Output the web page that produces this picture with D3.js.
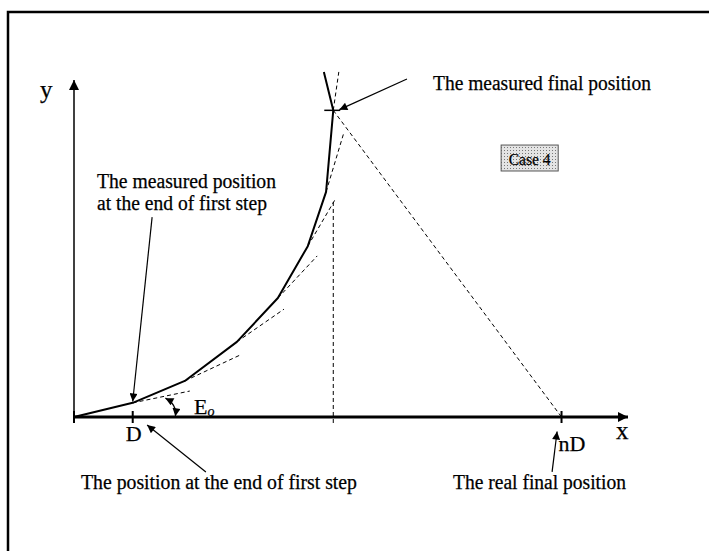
<!DOCTYPE html>
<meta charset="utf-8">
<style>
body { margin: 0; background: #fff; }
svg { display: block; }
text { font-family: "Liberation Serif", "Times New Roman", serif; fill: #000; stroke: #000; stroke-width: 0.25; }
.curve { fill: none; stroke: #000; stroke-width: 2; stroke-linejoin: round; }
.tangent, .guide { fill: none; stroke: #000; stroke-width: 1; stroke-dasharray: 4,3; }
.arrow { fill: none; stroke: #000; stroke-width: 1.2; }
</style>
<svg width="709" height="551"></svg>
<script src="https://d3js.org/d3.v7.min.js"></script>
<script>

// step points of the measured path (x, y in chart units)
var pathX = [0, 10.6, 20.0, 29.4, 36.8, 42.2, 45.5, 46.8, 45.1];
var pathY = [0, 4.2, 10.7, 22.3, 35.3, 50.7, 66.8, 91.0, 102.4];

// tangent continuation of every step (start -> end)
var tanX0 = [10.6, 20.0, 29.4, 36.8, 42.2, 45.5, 46.8];
var tanY0 = [4.2, 10.7, 22.3, 35.3, 50.7, 66.8, 91.0];
var tanX1 = [20.9, 30.0, 37.9, 43.9, 47.3, 48.7, 47.8];
var tanY1 = [7.7, 18.4, 32.0, 47.8, 65.0, 84.3, 102.4];

var tickValues = [10.6, 88.0];
var tickLabels = ["D", "nD"];
var finalMeasured = [46.8, 91.0];
var finalReal = [88.0, 0];

var svg = d3.select("svg");

var x = d3.scaleLinear().domain([0, 100]).range([74, 628]);
var y = d3.scaleLinear().domain([0, 100]).range([417, 80]);

var defs = svg.append("defs");
defs.append("marker")
    .attr("id", "head")
    .attr("viewBox", "0 0 10 10")
    .attr("refX", 10).attr("refY", 5)
    .attr("markerWidth", 11).attr("markerHeight", 8)
    .attr("markerUnits", "userSpaceOnUse")
    .attr("orient", "auto-start-reverse")
  .append("path").attr("d", "M0,0L10,5L0,10Z").attr("fill", "#000");
defs.append("marker")
    .attr("id", "bighead")
    .attr("viewBox", "0 0 10 10")
    .attr("refX", 10).attr("refY", 5)
    .attr("markerWidth", 12).attr("markerHeight", 10)
    .attr("markerUnits", "userSpaceOnUse")
    .attr("orient", "auto")
  .append("path").attr("d", "M0,0L10,5L0,10Z").attr("fill", "#000");

var pat = defs.append("pattern")
    .attr("id", "dots")
    .attr("width", 3).attr("height", 3)
    .attr("patternUnits", "userSpaceOnUse");
pat.append("rect").attr("width", 3).attr("height", 3).attr("fill", "#e4e4e4");
pat.append("rect").attr("width", 1).attr("height", 1).attr("fill", "#777");

// frame
svg.append("path")
    .attr("d", "M8,551V12H709")
    .attr("fill", "none")
    .attr("stroke", "#000")
    .attr("stroke-width", 2.5);

// axes
svg.append("line")
    .attr("x1", x(0)).attr("y1", y(0))
    .attr("x2", x(0)).attr("y2", y(100))
    .attr("stroke", "#000").attr("stroke-width", 1.5)
    .attr("marker-end", "url(#bighead)");
svg.append("line")
    .attr("x1", x(0)).attr("y1", y(0))
    .attr("x2", x(100)).attr("y2", y(0))
    .attr("stroke", "#000").attr("stroke-width", 3)
    .attr("marker-end", "url(#bighead)");

svg.selectAll(".tick")
    .data([0].concat(tickValues))
  .enter().append("line")
    .attr("class", "tick")
    .attr("x1", function(d) { return x(d); })
    .attr("x2", function(d) { return x(d); })
    .attr("y1", y(0) - 6).attr("y2", y(0) + 6)
    .attr("stroke", "#000").attr("stroke-width", 2);

svg.selectAll(".ticklabel")
    .data(tickValues)
  .enter().append("text")
    .attr("class", "ticklabel")
    .attr("x", function(d, i) { return x(d) + (i === 0 ? -7 : -3); })
    .attr("y", function(d, i) { return i === 0 ? 441 : 451; })
    .attr("font-size", 22)
    .text(function(d, i) { return tickLabels[i]; });

svg.append("text").attr("x", 40).attr("y", 98).attr("font-size", 25).text("y");
svg.append("text").attr("x", 616).attr("y", 439).attr("font-size", 25).text("x");

// vertical guide at measured final position
svg.append("line")
    .attr("class", "guide")
    .attr("x1", x(finalMeasured[0])).attr("x2", x(finalMeasured[0]))
    .attr("y1", y(63.8)).attr("y2", y(-1.8));

// dashed line to the real final position
svg.append("line")
    .attr("class", "guide")
    .attr("x1", x(finalMeasured[0])).attr("y1", y(finalMeasured[1]))
    .attr("x2", x(finalReal[0])).attr("y2", y(finalReal[1]));

// tangents
svg.selectAll(".tangent")
    .data(tanX0)
  .enter().append("line")
    .attr("class", "tangent")
    .attr("x1", function(d) { return x(d); })
    .attr("y1", function(d, i) { return y(tanY0[i]); })
    .attr("x2", function(d, i) { return x(tanX1[i]); })
    .attr("y2", function(d, i) { return y(tanY1[i]); });

// measured path
svg.append("path")
    .attr("class", "curve")
    .attr("d", d3.line()
        .x(function(d) { return x(d); })
        .y(function(d, i) { return y(pathY[i]); })(pathX));

// tick mark at the measured final position
svg.append("line")
    .attr("x1", x(finalMeasured[0]) - 9).attr("x2", x(finalMeasured[0]) + 7)
    .attr("y1", y(finalMeasured[1])).attr("y2", y(finalMeasured[1]))
    .attr("stroke", "#000").attr("stroke-width", 1.5);

// annotation arrows
function arrow(x0, y0, x1, y1) {
  svg.append("line")
      .attr("class", "arrow")
      .attr("x1", x(x0)).attr("y1", y(y0))
      .attr("x2", x(x1)).attr("y2", y(y1))
      .attr("marker-end", "url(#head)");
}
arrow(60.1, 100.3, 47.9, 91.2);
arrow(14.1, 59.3, 10.6, 4.6);
arrow(23.8, -16.3, 13.2, -2.4);
arrow(86.3, -16.3, 87.2, -4.3);

// angle arc for E0
svg.append("path")
    .attr("class", "arrow")
    .attr("d", "M" + x(16.5) + "," + y(5.6) + "Q" + x(18.6) + "," + y(3.8) + " " + x(18.3) + "," + y(0.2))
    .attr("marker-start", "url(#head)")
    .attr("marker-end", "url(#head)");

var e = svg.append("text").attr("x", 194).attr("y", 414).attr("font-size", 22);
e.append("tspan").text("E");
e.append("tspan").attr("font-size", 14).attr("font-style", "italic").attr("dy", 2).text("o");

// labels
function label(t, x0, y0, w) {
  svg.append("text")
      .attr("x", x0).attr("y", y0)
      .attr("font-size", 20)
      .attr("textLength", w)
      .attr("lengthAdjust", "spacingAndGlyphs")
      .text(t);
}
label("The measured final position", 433, 90, 218);
label("The measured position", 97, 188, 179);
label("at the end of first step", 97, 210, 170);
label("The position at the end of first step", 81, 489, 276);
label("The real final position", 453, 489, 173);

// case box
svg.append("rect")
    .attr("x", x(77.1)).attr("y", y(80.7))
    .attr("width", x(87.4) - x(77.1)).attr("height", y(73.0) - y(80.7))
    .attr("fill", "url(#dots)")
    .attr("stroke", "#555").attr("stroke-width", 1);
svg.append("text")
    .attr("x", (x(77.1) + x(87.4)) / 2).attr("y", 165)
    .attr("text-anchor", "middle")
    .attr("font-size", 16)
    .attr("textLength", 42)
    .attr("lengthAdjust", "spacingAndGlyphs")
    .text("Case 4");

</script>
